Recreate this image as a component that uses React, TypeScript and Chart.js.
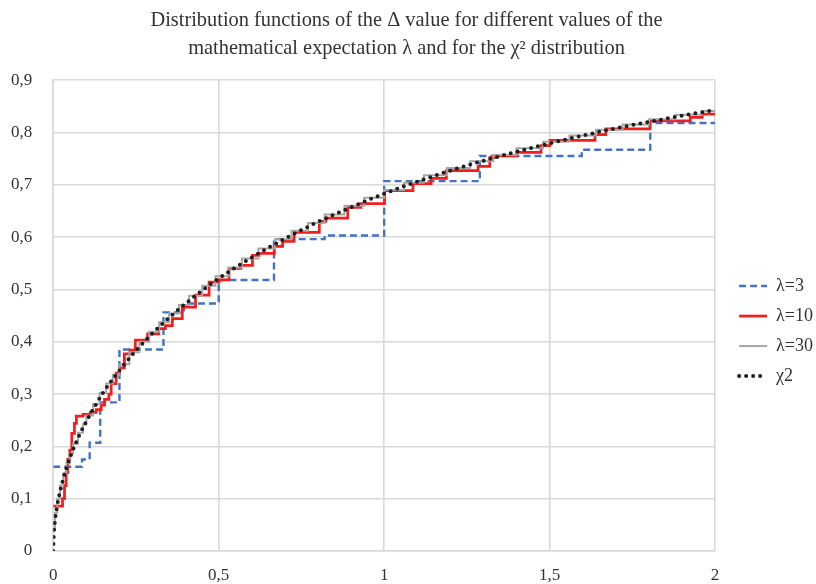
import React, { useEffect, useRef } from "react";
import { Chart, registerables } from "chart.js";

Chart.register(...registerables);

const titleLines = [
  "Distribution functions of the \u0394 value for different values of the",
  "mathematical expectation \u03bb and for the \u03c7\u00b2 distribution",
];

const seriesLabels = ["\u03bb=3", "\u03bb=10", "\u03bb=30", "\u03c72"];

const xTickValues = [0, 0.5, 1, 1.5, 2];
const xTickLabels = ["0", "0,5", "1", "1,5", "2"];
const yTickLabels = ["0", "0,1", "0,2", "0,3", "0,4", "0,5", "0,6", "0,7", "0,8", "0,9"];

// λ=3 step function: x where a level starts, level value
const lambda3X = [0, 0.087, 0.11, 0.142, 0.2, 0.333, 0.395, 0.5, 0.667, 0.82, 1.0, 1.289, 1.597, 1.804, 2.0];
const lambda3Y = [0.161, 0.175, 0.207, 0.284, 0.385, 0.456, 0.473, 0.518, 0.596, 0.603, 0.707, 0.755, 0.767, 0.818, 0.818];

// λ=10 step function
const lambda10X = [
  0, 0.028, 0.034, 0.039, 0.044, 0.05, 0.056, 0.064, 0.07, 0.09, 0.112, 0.13, 0.145, 0.155, 0.168,
  0.175, 0.19, 0.2, 0.215, 0.232, 0.248, 0.285, 0.319, 0.339, 0.36, 0.39, 0.43, 0.471, 0.501, 0.531,
  0.567, 0.602, 0.622, 0.668, 0.693, 0.728, 0.804, 0.824, 0.89, 0.93, 1.001, 1.087, 1.142, 1.188,
  1.284, 1.319, 1.334, 1.4, 1.474, 1.501, 1.637, 1.67, 1.803, 1.925, 1.961, 2.0,
];
const lambda10Y = [
  0.086, 0.1, 0.125, 0.15, 0.175, 0.193, 0.225, 0.244, 0.258, 0.261, 0.265, 0.27, 0.279, 0.29, 0.3,
  0.32, 0.34, 0.35, 0.377, 0.384, 0.403, 0.415, 0.425, 0.431, 0.444, 0.466, 0.489, 0.514, 0.518, 0.54,
  0.546, 0.565, 0.569, 0.582, 0.592, 0.609, 0.63, 0.636, 0.657, 0.664, 0.689, 0.702, 0.712, 0.727,
  0.735, 0.752, 0.755, 0.762, 0.775, 0.785, 0.796, 0.807, 0.822, 0.829, 0.835, 0.835,
];

// λ=30 step function
const lambda30X = [
  0, 0.005, 0.012, 0.02, 0.03, 0.04, 0.05, 0.06, 0.075, 0.09, 0.1, 0.12, 0.14, 0.16, 0.18, 0.2,
  0.23, 0.26, 0.29, 0.32, 0.35, 0.38, 0.41, 0.45, 0.49, 0.53, 0.57, 0.62, 0.67, 0.72, 0.77, 0.82,
  0.88, 0.94, 1.0, 1.06, 1.12, 1.19, 1.26, 1.33, 1.4, 1.48, 1.56, 1.64, 1.72, 1.8, 1.88, 1.96, 2.0,
];
const lambda30Y = [
  0.04, 0.073, 0.1, 0.125, 0.148, 0.168, 0.186, 0.205, 0.226, 0.242, 0.259, 0.281, 0.302, 0.32, 0.337,
  0.357, 0.38, 0.4, 0.419, 0.437, 0.454, 0.47, 0.488, 0.507, 0.525, 0.542, 0.559, 0.578, 0.596, 0.612,
  0.627, 0.643, 0.66, 0.675, 0.69, 0.704, 0.718, 0.732, 0.745, 0.757, 0.77, 0.782, 0.794, 0.805,
  0.815, 0.825, 0.834, 0.841, 0.841,
];

// χ2 curve
const chiX = [
  0, 0.002, 0.005, 0.01, 0.02, 0.03, 0.04, 0.06, 0.08, 0.1, 0.125, 0.15, 0.2, 0.25, 0.3, 0.35, 0.4,
  0.45, 0.5, 0.6, 0.7, 0.8, 0.9, 1.0, 1.1, 1.2, 1.3, 1.4, 1.5, 1.6, 1.7, 1.8, 1.9, 2.0,
];
const chiY = [
  0, 0.036, 0.056, 0.08, 0.112, 0.137, 0.159, 0.194, 0.223, 0.248, 0.276, 0.302, 0.345, 0.383, 0.416,
  0.446, 0.473, 0.498, 0.521, 0.561, 0.597, 0.629, 0.657, 0.683, 0.706, 0.727, 0.746, 0.763, 0.779,
  0.794, 0.808, 0.82, 0.832, 0.843,
];

const FONT = "'Liberation Serif', 'Times New Roman', Times, serif";
const TEXT = "#333333";
const GRID = "#d9d9d9";

const pts = (xs: number[], ys: number[]) => xs.map((x, i) => ({ x, y: ys[i] }));

export default function App() {
  const ref = useRef<HTMLCanvasElement | null>(null);

  useEffect(() => {
    if (!ref.current) return;
    const chart = new Chart(ref.current, {
      type: "line",
      data: {
        datasets: [
          {
            label: seriesLabels[0],
            data: pts(lambda3X, lambda3Y),
            borderColor: "#4472C4",
            backgroundColor: "#4472C4",
            borderWidth: 2.4,
            borderDash: [7, 4],
            stepped: "before",
            pointRadius: 0,
            order: 3,
          },
          {
            label: seriesLabels[1],
            data: pts(lambda10X, lambda10Y),
            borderColor: "#F21D1D",
            backgroundColor: "#F21D1D",
            borderWidth: 2.75,
            stepped: "before",
            pointRadius: 0,
            order: 2,
          },
          {
            label: seriesLabels[2],
            data: pts(lambda30X, lambda30Y),
            borderColor: "#A6A6A6",
            backgroundColor: "#A6A6A6",
            borderWidth: 2,
            stepped: "before",
            pointRadius: 0,
            order: 1,
          },
          {
            label: seriesLabels[3],
            data: pts(chiX, chiY),
            borderColor: "#1f1f1f",
            backgroundColor: "#1f1f1f",
            borderWidth: 4,
            borderDash: [0, 7],
            borderCapStyle: "round",
            cubicInterpolationMode: "monotone",
            pointRadius: 0,
            order: 0,
          },
        ] as any,
      },
      options: {
        animation: false,
        responsive: true,
        maintainAspectRatio: false,
        layout: { padding: { left: -10, right: -7, top: 0, bottom: -16 } },
        plugins: {
          tooltip: { enabled: false },
          title: {
            display: true,
            text: titleLines,
            color: TEXT,
            font: { family: FONT, size: 20.4, weight: "normal", lineHeight: 1.4 },
            padding: { top: 6, bottom: 17 },
          },
          legend: {
            position: "right",
            fullSize: false,
            title: {
              display: true,
              text: "",
              font: { family: FONT, size: 10, lineHeight: 1 },
              padding: { top: 11, bottom: 10 },
            },
            labels: {
              usePointStyle: true,
              pointStyle: "line",
              pointStyleWidth: 28,
              padding: 12,
              color: TEXT,
              font: { family: FONT, size: 18 },
              sort: (a: any, b: any) => a.datasetIndex - b.datasetIndex,
              generateLabels: (c: any) =>
                c.data.datasets.map((ds: any, i: number) => ({
                  text: ds.label,
                  fillStyle: ds.borderColor,
                  strokeStyle: ds.borderColor,
                  lineWidth: ds.borderWidth,
                  lineDash: ds.borderDash || [],
                  lineCap: ds.borderCapStyle || "butt",
                  pointStyle: "line",
                  fontColor: TEXT,
                  hidden: false,
                  datasetIndex: i,
                })),
            },
          },
        },
        scales: {
          x: {
            type: "linear",
            min: 0,
            max: 2,
            afterBuildTicks: (scale: any) => {
              scale.ticks = xTickValues.map((v) => ({ value: v }));
            },
            ticks: {
              color: TEXT,
              padding: 16,
              font: { family: FONT, size: 17, lineHeight: 1 },
              maxRotation: 0,
              callback: (v: any) => {
                const i = xTickValues.indexOf(Number(v));
                return i >= 0 ? xTickLabels[i] : "";
              },
            },
            grid: { color: GRID, lineWidth: 1.6, drawTicks: false },
            border: { color: GRID, width: 1.6 },
          },
          y: {
            type: "linear",
            min: 0,
            max: 0.9,
            afterBuildTicks: (scale: any) => {
              scale.ticks = yTickLabels.map((_, i) => ({ value: i / 10 }));
            },
            ticks: {
              color: TEXT,
              padding: 21,
              font: { family: FONT, size: 17 },
              callback: (_v: any, i: number) => yTickLabels[i],
            },
            grid: { color: GRID, lineWidth: 1.6, drawTicks: false },
            border: { color: GRID, width: 1.6 },
          },
          pad: {
            type: "linear",
            position: "right",
            display: true,
            grid: { display: false, drawTicks: false },
            border: { display: false },
            ticks: { display: false },
            afterFit: (scale: any) => {
              scale.width = 12;
            },
          },
        },
      } as any,
    });
    return () => chart.destroy();
  }, []);

  return (
    <div style={{ position: "absolute", left: 0, top: 0, width: 816, height: 584, background: "#fff" }}>
      <canvas ref={ref} />
    </div>
  );
}
